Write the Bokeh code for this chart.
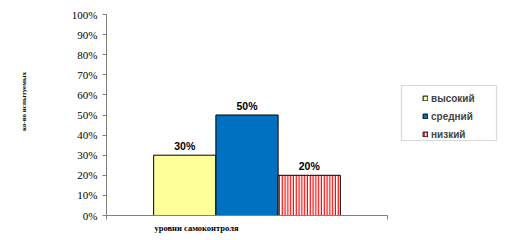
from bokeh.plotting import figure
from bokeh.models import (Range1d, FixedTicker, NumeralTickFormatter, Legend, LegendItem,
                          ColumnDataSource, BoxAnnotation, LinearAxis)
from bokeh.layouts import row
from bokeh.embed import file_html
from bokeh.resources import INLINE
from bokeh.core.properties import value

categories = ["высокий", "средний", "низкий"]
values = [0.30, 0.50, 0.20]
bar_labels = ["30%", "50%", "20%"]
colors = ["#FFFF99", "#0070C0", "white"]
y_ticks = [0.0, 0.1, 0.2, 0.3, 0.4, 0.5, 0.6, 0.7, 0.8, 0.9, 1.0]
x_title = "уровни самоконтроля"
y_title = "ко-во испытуемых"

pad = 0.758
xs = list(range(len(values)))
x_start = xs[0] - 0.5 - pad
x_end = xs[-1] + 0.5 + pad

p = figure(width=395, height=240, output_backend="svg", toolbar_location=None,
           x_range=Range1d(x_start, x_end), y_range=Range1d(0, 1), x_axis_type=None,
           min_border_left=106, min_border_right=8, min_border_top=14, min_border_bottom=25)
p.extra_x_ranges = {"px": Range1d(0, 281)}
p.extra_y_ranges = {"py": Range1d(0, 201)}
p.outline_line_color = None
p.grid.visible = False
p.background_fill_color = "white"
p.border_fill_color = "white"

def bar(fig, i, **kw):
    src = ColumnDataSource(dict(x=[xs[i]], top=[values[i]]))
    return fig.vbar(x="x", top="top", width=1.0, source=src, line_color="black", line_width=1, **kw)

hatch = dict(hatch_pattern="vertical_line", hatch_color="#FF0000", hatch_scale=2.8, hatch_weight=1.5)
r1 = bar(p, 0, fill_color=colors[0])
r2 = bar(p, 1, fill_color=colors[1])
r3 = bar(p, 2, fill_color=colors[2], **hatch)

lab_src = ColumnDataSource(dict(x=xs, y=values, t=bar_labels))
p.text(x="x", y="y", text="t", source=lab_src, text_align="center", text_baseline="alphabetic",
       y_offset=-9, text_font=value("Liberation Sans"), text_font_style="bold",
       text_font_size="10.5px", text_color="black")

# y axis
p.yaxis.ticker = FixedTicker(ticks=y_ticks)
p.yaxis.formatter = NumeralTickFormatter(format="0%")
p.yaxis.major_label_text_font = "Liberation Serif"
p.yaxis.major_label_text_font_size = "11px"
p.yaxis.major_label_text_color = "black"
p.yaxis.major_tick_in = 0
p.yaxis.major_tick_out = 4
p.yaxis.minor_tick_line_color = None
p.yaxis.major_label_standoff = 5
p.yaxis.axis_line_color = "#808080"
p.yaxis.major_tick_line_color = "#808080"

# y title (placed off-centre like the original)
yt = LinearAxis(y_range_name="py", ticker=FixedTicker(ticks=[114]),
                major_label_overrides={114: y_title}, major_tick_line_color=None,
                minor_tick_line_color=None, axis_line_color=None, major_label_standoff=35,
                major_label_orientation="vertical",
                major_label_text_font="Liberation Serif", major_label_text_font_size="7px",
                major_label_text_font_style="bold", major_label_text_color="black")
p.add_layout(yt, "left")

# x axis (line with end ticks)
xa = LinearAxis(x_range_name="px", ticker=FixedTicker(ticks=[0, 281]),
                major_label_overrides={0: "", 281: ""}, major_tick_in=0, major_tick_out=4,
                minor_tick_line_color=None, axis_line_color="#808080",
                major_tick_line_color="#808080", major_label_standoff=0,
                major_label_text_font_size="1px")
p.add_layout(xa, "below")
# category title
xt = LinearAxis(x_range_name="px", ticker=FixedTicker(ticks=[90]),
                major_label_overrides={90: x_title}, major_tick_line_color=None,
                minor_tick_line_color=None, axis_line_color=None, major_label_standoff=-3,
                major_label_text_font="Liberation Serif", major_label_text_font_size="8.5px",
                major_label_text_font_style="bold", major_label_text_color="black")
p.add_layout(xt, "below")

# legend panel (its frame is aligned with the main frame: y from 14 to 215)
lg = figure(width=118, height=240, output_backend="svg", toolbar_location=None,
            x_range=Range1d(0, 1), y_range=Range1d(0, 1), x_axis_type=None, y_axis_type=None,
            min_border=0, min_border_left=0, min_border_right=0, min_border_top=0,
            min_border_bottom=0)
lg.outline_line_color = None
lg.grid.visible = False
lg.background_fill_color = "white"
lg.border_fill_color = "white"
lg.add_layout(BoxAnnotation(left=6, right=101, bottom=75, top=130, left_units="screen",
                            right_units="screen", bottom_units="screen", top_units="screen",
                            fill_color="white", fill_alpha=1, line_color="#808080", line_width=1.2))
g1 = bar(lg, 0, fill_color=colors[0])
g2 = bar(lg, 1, fill_color=colors[1])
g3 = bar(lg, 2, fill_color=colors[2], **hatch)
for g in (g1, g2, g3):
    g.visible = False
legend = Legend(items=[LegendItem(label=categories[0], renderers=[g1]),
                       LegendItem(label=categories[1], renderers=[g2]),
                       LegendItem(label=categories[2], renderers=[g3])],
                location=(27, 75), border_line_color=None, background_fill_alpha=0,
                inactive_fill_alpha=0,
                glyph_width=6, glyph_height=6, label_standoff=3, label_height=12,
                spacing=6, padding=3, margin=0,
                label_text_font="Liberation Sans", label_text_font_style="bold",
                label_text_font_size="10px")
lg.add_layout(legend, "center")

layout = row(p, lg, spacing=0)
open("out.html", "w").write(file_html(layout, INLINE))
